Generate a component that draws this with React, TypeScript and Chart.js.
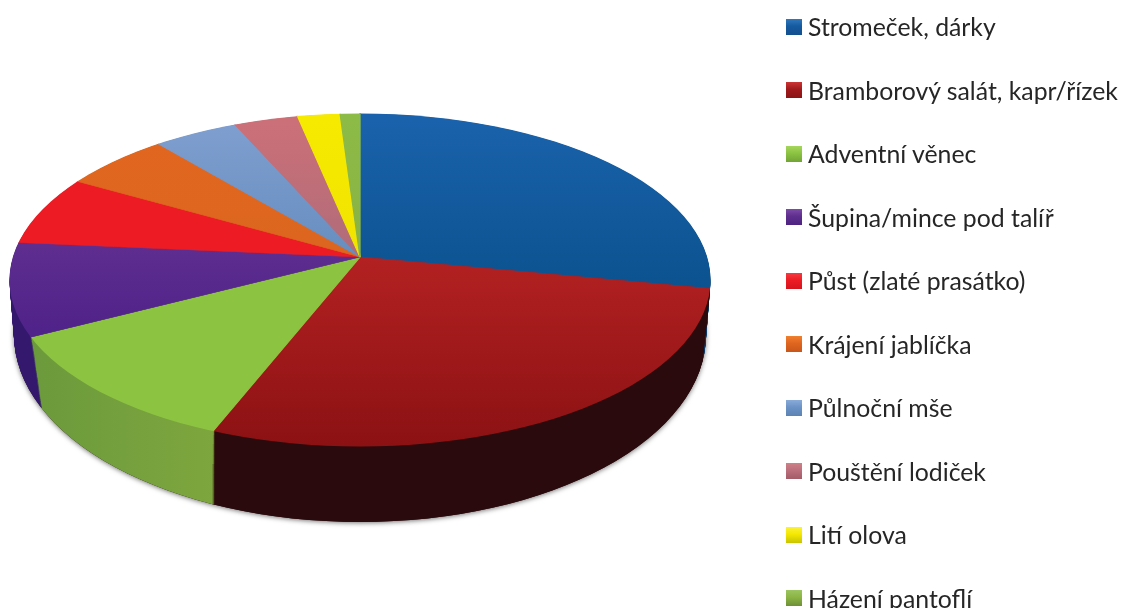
import React, { useEffect, useRef } from "react";
import { Chart, registerables } from "chart.js";

Chart.register(...registerables);

const categories = [
  "Stromeček, dárky",
  "Bramborový salát, kapr/řízek",
  "Adventní věnec",
  "Šupina/mince pod talíř",
  "Půst (zlaté prasátko)",
  "Krájení jablíčka",
  "Půlnoční mše",
  "Pouštění lodiček",
  "Lití olova",
  "Házení pantoflí",
];
const shares = [27.6, 29.2, 11.45, 8.35, 7.6, 5.75, 4.15, 3.0, 1.95, 0.9];
const baseColors = ["#155a9f", "#a01a1c", "#8cc342", "#5f2f8e", "#ed1c24", "#e0661f", "#6c93c6", "#bc6f7c", "#f4e800", "#8cb545"];
const topLight = ["#1a62ab", "#b32122", "#8cc441", "#733d96", "#ed1c24", "#e2671f", "#7f9fd0", "#cc7078", "#f6ea00", "#8dbb47"];
const topDark = ["#0b528f", "#8c1113", "#8cc441", "#50238a", "#ed1c24", "#d9651f", "#5a84b6", "#a06a7a", "#eee000", "#86ae42"];
const wallLeft = ["#0a3a66", "#2c0c0e", "#6b9a3c", "#33186e", "#8a1116", "#8a3e12", "#3d5a80", "#6b3f48", "#a49a00", "#5c7a2e"];
const wallRight = ["#0a3a66", "#2a0a0c", "#7ea63e", "#2e1568", "#8a1116", "#8a3e12", "#3d5a80", "#6b3f48", "#a49a00", "#5c7a2e"];
const markerTop = ["#2f78bd", "#cc3434", "#a5d65c", "#7d4aa8", "#f53a40", "#f08030", "#89abd8", "#cf8088", "#fbf23a", "#9cc460"];
const markerBottom = ["#134f8e", "#8c1416", "#71a436", "#4d2280", "#d5141c", "#c8561a", "#5d82b4", "#a35c68", "#c9c400", "#6d9036"];

const W = 1125;
const H = 608;
const PIE_X = 360;
const GROW = 1.15;

type Layer = { apexY: number; ellipseY: number; rx: number; ry: number; upper: number; lower: number };

function layerAt(t: number): Layer {
  const mix = (a: number, b: number) => a + (b - a) * t;
  return {
    apexY: Math.round(mix(257, 330)),
    ellipseY: mix(280, 335),
    rx: mix(350.5, 346),
    ry: mix(166.5, 187),
    upper: 143,
    lower: 190,
  };
}

function paintLayer(chart: any, layer: Layer, fill: (i: number, ux: (x: number) => number, uy: (y: number) => number, c: CanvasRenderingContext2D) => any) {
  const ctx: CanvasRenderingContext2D = chart.ctx;
  const arcs: any[] = chart.getDatasetMeta(0).data;
  const { x: cx, y: cy, outerRadius: R } = arcs[0];
  [0, 1].forEach((half) => {
    const sx = (350.5 * GROW) / R;
    const sy = ((half === 0 ? layer.upper : layer.lower) * GROW) / R;
    ctx.save();
    ctx.beginPath();
    ctx.ellipse(PIE_X, layer.ellipseY, layer.rx, layer.ry, 0, 0, Math.PI * 2);
    ctx.clip();
    ctx.beginPath();
    if (half === 0) ctx.rect(0, 0, W, layer.apexY);
    else ctx.rect(0, layer.apexY, W, H - layer.apexY);
    ctx.clip();
    ctx.setTransform(sx, 0, 0, sy, PIE_X - cx * sx, layer.apexY - cy * sy);
    const ux = (x: number) => cx + (x - PIE_X) / sx;
    const uy = (y: number) => cy + (y - layer.apexY) / sy;
    arcs.forEach((arc, i) => {
      const saved = arc.options;
      const paint = fill(i, ux, uy, ctx);
      arc.options = { ...saved, backgroundColor: paint, borderColor: paint, borderWidth: 1 };
      arc.draw(ctx);
      arc.options = saved;
    });
    ctx.restore();
  });
}

const pie3d = {
  id: "pie3d",
  beforeDatasetsDraw(chart: any) {
    const ctx: CanvasRenderingContext2D = chart.ctx;
    const DEPTH = 73;
    const last = layerAt(1);
    ctx.save();
    ctx.shadowColor = "rgba(0,0,0,0.55)";
    ctx.shadowBlur = 5;
    ctx.shadowOffsetY = 1;
    ctx.fillStyle = "#2a0a0c";
    ctx.beginPath();
    ctx.ellipse(PIE_X, last.ellipseY, last.rx, last.ry, 0, 0, Math.PI * 2);
    ctx.fill();
    ctx.restore();
    for (let d = DEPTH; d > 0; d--) {
      paintLayer(chart, layerAt(d / DEPTH), (i, ux, _uy, c) => {
        const g = c.createLinearGradient(ux(30), 0, ux(215), 0);
        g.addColorStop(0, wallLeft[i]);
        g.addColorStop(1, wallRight[i]);
        return g;
      });
    }
    paintLayer(chart, layerAt(0), (i, _ux, uy, c) => {
      const g = c.createLinearGradient(0, uy(i === 1 ? 257 : 120), 0, uy(i === 0 ? 290 : i === 1 ? 445 : 330));
      g.addColorStop(0, topLight[i]);
      g.addColorStop(1, topDark[i]);
      return g;
    });
    return false;
  },
};

export default function App() {
  const ref = useRef<HTMLCanvasElement>(null);
  useEffect(() => {
    document.body.style.margin = "0";
    document.body.style.background = "#ffffff";
    const chart = new Chart(ref.current as HTMLCanvasElement, {
      type: "pie",
      data: {
        labels: categories,
        datasets: [{ data: shares, backgroundColor: baseColors, borderWidth: 0 }],
      },
      options: {
        responsive: false,
        animation: false,
        events: [],
        plugins: { legend: { display: false }, tooltip: { enabled: false } },
      },
      plugins: [pie3d],
    } as any);
    return () => chart.destroy();
  }, []);
  return (
    <div style={{ position: "relative", width: W, height: H, overflow: "hidden" }}>
      <canvas ref={ref} width={W} height={H} style={{ display: "block" }} />
      {categories.map((label, i) => (
        <div
          key={label}
          style={{
            position: "absolute",
            left: 786,
            top: 11.5 + i * 63.5,
            height: 30,
            display: "flex",
            alignItems: "center",
            whiteSpace: "nowrap",
            font: "24.8px Lato, sans-serif",
            color: "#262626",
          }}
        >
          <span
            style={{
              display: "inline-block",
              width: 16,
              height: 16,
              marginRight: 6,
              background: `linear-gradient(to bottom, ${markerTop[i]}, ${baseColors[i]} 45%, ${markerBottom[i]})`,
            }}
          />
          {label}
        </div>
      ))}
    </div>
  );
}
